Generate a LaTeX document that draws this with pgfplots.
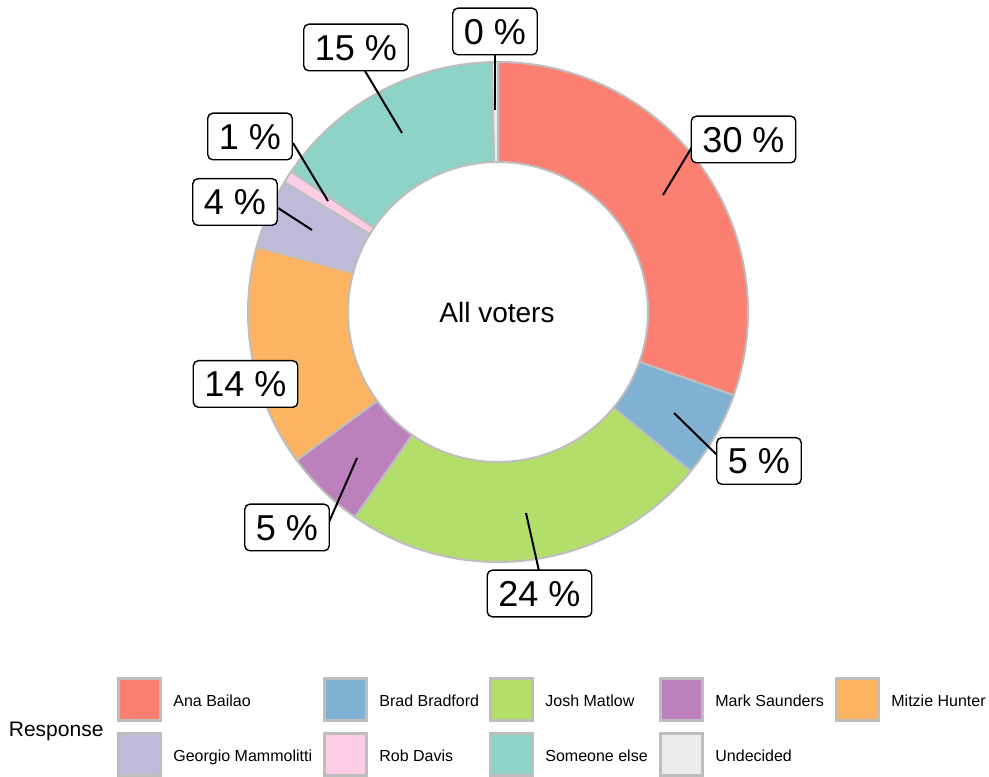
\documentclass[border=0pt]{standalone}
\usepackage{fontspec}
\setmainfont{Liberation Sans}
\usepackage{pgfplots}
\pgfplotsset{compat=1.18}

\definecolor{cAna}{HTML}{FB8072}
\definecolor{cBrad}{HTML}{80B1D3}
\definecolor{cJosh}{HTML}{B3DE69}
\definecolor{cMark}{HTML}{BC80BD}
\definecolor{cMitzie}{HTML}{FDB462}
\definecolor{cGeorgio}{HTML}{BEBADA}
\definecolor{cRob}{HTML}{FCCDE5}
\definecolor{cElse}{HTML}{8DD3C7}
\definecolor{cUnd}{HTML}{EBEDEB}
\definecolor{edge}{HTML}{BEBEBE}

% vote shares (percent), clockwise from 12 o'clock
\def\shares{30.4/cAna,5.6/cBrad,23.7/cJosh,5.2/cMark,14.3/cMitzie,4.5/cGeorgio,0.8/cRob,15.1/cElse,0.4/cUnd}

\newcommand\pctfont{\fontsize{18}{21}\selectfont}
\newcommand\legfont{\fontsize{8}{9.6}\selectfont}

\tikzset{
  pct/.style={draw=black, fill=white, line width=0.7pt, rounded corners=2.5pt,
    inner xsep=5.6pt, inner ysep=5.1pt, text height=12.9pt, text depth=0.2pt, font=\pctfont},
  lead/.style={line width=1pt, black},
  key/.style={draw=edge, line width=1.5pt, minimum size=21pt, inner sep=0pt},
}

\begin{document}
\begin{tikzpicture}
\begin{axis}[
  x=0.5pt, y=0.5pt,
  xmin=0, xmax=989, ymin=0, ymax=776,
  hide axis, scale only axis, clip=false,
]
\coordinate (ll) at (axis cs:0,0);
\coordinate (ur) at (axis cs:989,776);

% donut: centre (498,464), radii 250 / 150 (units = px)
\gdef\cum{0}
\foreach \v/\col in \shares {
  \pgfmathsetmacro\a{90-3.6*\cum}
  \pgfmathsetmacro\b{90-3.6*(\cum+\v)}
  \pgfmathsetmacro\xo{498+250*cos(\a)}
  \pgfmathsetmacro\yo{464+250*sin(\a)}
  \pgfmathsetmacro\xin{498+150*cos(\b)}
  \pgfmathsetmacro\yin{464+150*sin(\b)}
  \edef\doslice{\noexpand\filldraw[fill=\col, draw=edge, line width=1pt]
    (axis cs:\xo,\yo) arc[start angle=\a, end angle=\b, radius=125pt]
    -- (axis cs:\xin,\yin) arc[start angle=\b, end angle=\a, radius=75pt] -- cycle;}
  \doslice
  \pgfmathsetmacro\cumnext{\cum+\v}
  \global\let\cum\cumnext
}

\node[font=\fontsize{14}{16}\selectfont, anchor=base] at (axis cs:497,453) {All voters};

% leader lines
\draw[lead] (axis cs:663,581) -- (axis cs:692,629);
\draw[lead] (axis cs:674,363) -- (axis cs:717,321);
\draw[lead] (axis cs:526,263) -- (axis cs:539,205);
\draw[lead] (axis cs:357,318) -- (axis cs:329,254);
\draw[lead] (axis cs:312,546) -- (axis cs:278,568);
\draw[lead] (axis cs:328,575) -- (axis cs:293,633);
\draw[lead] (axis cs:402,643) -- (axis cs:365,705);
\draw[lead] (axis cs:495,666) -- (axis cs:495,721);

% percentage labels
\node[pct] at (axis cs:743.5,636.5) {30 \%};
\node[pct] at (axis cs:759,315) {5 \%};
\node[pct] at (axis cs:539.5,182.5) {24 \%};
\node[pct] at (axis cs:287,248.5) {5 \%};
\node[pct] at (axis cs:245.5,392) {14 \%};
\node[pct] at (axis cs:235,574) {4 \%};
\node[pct] at (axis cs:250,639.5) {1 \%};
\node[pct] at (axis cs:356,728.5) {15 \%};
\node[pct] at (axis cs:495,744.5) {0 \%};

% legend
\node[anchor=base west, inner sep=0pt, font=\fontsize{10.5}{12}\selectfont] at (axis cs:8.5,40) {Response};
\foreach \col/\kx/\ky/\name in {
  cAna/139.5/76.5/Ana Bailao, cBrad/345.5/76.5/Brad Bradford,
  cJosh/511.5/76.5/Josh Matlow, cMark/681.5/76.5/Mark Saunders,
  cMitzie/857.5/76.5/Mitzie Hunter,
  cGeorgio/139.5/21.5/Georgio Mammolitti, cRob/345.5/21.5/Rob Davis,
  cElse/511.5/21.5/Someone else, cUnd/681.5/21.5/Undecided} {
  \pgfmathsetmacro\tx{\kx+33.5}
  \pgfmathsetmacro\ty{\ky-6.5}
  \edef\dokey{\noexpand\node[key, fill=\col] at (axis cs:\kx,\ky) {};
    \noexpand\node[anchor=base west, inner sep=0pt, font=\noexpand\legfont] at (axis cs:\tx,\ty) {\name};}
  \dokey
}
\end{axis}
\pgfresetboundingbox
\useasboundingbox (ll) rectangle (ur);
\end{tikzpicture}
\end{document}
